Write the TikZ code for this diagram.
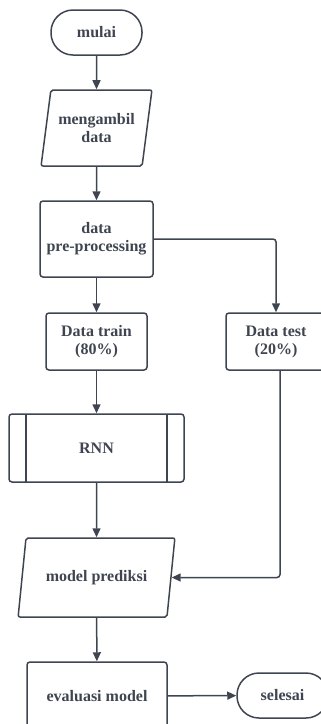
\documentclass[tikz,border=0pt]{standalone}
\usepackage{fontspec}
\setmainfont{Liberation Serif}
\usetikzlibrary{shapes.geometric,arrows.meta,positioning}
\definecolor{ink}{HTML}{3F4550}

\begin{document}
\begin{tikzpicture}[
    x=1pt, y=-1pt,
    every node/.style={font=\fontsize{16}{18}\selectfont\bfseries, text=ink, align=center},
    terminal/.style={rectangle, draw=ink, rounded corners=22pt, line width=1.5pt, minimum width=91pt, minimum height=45pt},
    io/.style={trapezium, draw=ink, trapezium stretches=true, rounded corners=2pt, line width=1.5pt},
    proc/.style={rectangle, draw=ink, rounded corners=3pt, line width=1.5pt},
    subproc/.style={proc, path picture={
        \draw[ink, line width=1.5pt] ([xshift=17pt]path picture bounding box.north west) -- ([xshift=17pt]path picture bounding box.south west);
        \draw[ink, line width=1.5pt] ([xshift=-17pt]path picture bounding box.north east) -- ([xshift=-17pt]path picture bounding box.south east);}},
    flow/.style={draw=ink, line width=1.5pt, -{Triangle[length=9pt,width=8pt]}}
]
\useasboundingbox (0,0) rectangle (321,724);

\node[terminal] (mulai) at (96.5,32.5) {mulai};
\node[io, trapezium left angle=76, trapezium right angle=104, minimum width=111pt, minimum height=76pt] (ambil) at (96.5,128) {mengambil\\data};
\node[proc, minimum width=113pt, minimum height=76pt] (prep) at (96.5,239) {data\\pre-processing};
\node[proc, minimum width=101pt, minimum height=57pt] (train) at (96.5,341.5) {Data train\\(80\%)};
\node[proc, minimum width=100pt, minimum height=57pt] (test) at (276,341.5) {Data test\\(20\%)};
\node[subproc, minimum width=175pt, minimum height=68pt] (rnn) at (96.5,448) {RNN};
\node[io, trapezium left angle=74, trapezium right angle=106, minimum width=157pt, minimum height=79pt] (model) at (96.5,577.5) {model prediksi};
\node[proc, minimum width=140pt, minimum height=68pt] (eval) at (97,696) {evaluasi model};
\node[terminal] (selesai) at (282.5,695.5) {selesai};

\draw[flow] (mulai) -- (ambil);
\draw[flow] (ambil) -- (prep);
\draw[flow] (prep) -- (train);
\draw[flow, rounded corners=3pt] (prep.east) -| (test.north);
\draw[flow] (train) -- (rnn);
\draw[flow] (rnn) -- (model);
\draw[flow, rounded corners=3pt] ([xshift=4pt]test.south) |- (model.east);
\draw[flow] (model) -- (eval);
\draw[flow] (eval) -- (selesai);

\end{tikzpicture}
\end{document}
